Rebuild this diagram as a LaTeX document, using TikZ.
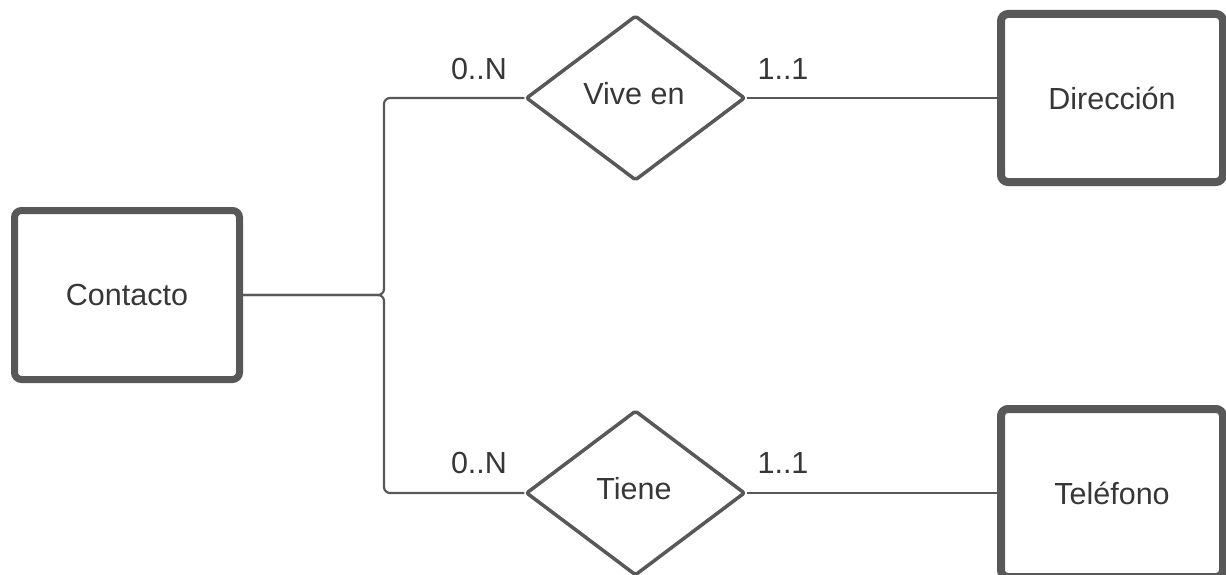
\documentclass[tikz,border=0pt]{standalone}
\usepackage{fontspec}
\setmainfont{Liberation Sans}
\usetikzlibrary{shapes.geometric}
\definecolor{edgegray}{RGB}{88,88,88}
\definecolor{txtgray}{RGB}{55,55,55}
\begin{document}
\begin{tikzpicture}[x=1pt,y=-1pt,
  every node/.style={text=txtgray,font=\fontsize{30.5}{36}\selectfont},
  entity/.style={draw=edgegray,line width=8pt,rounded corners=7pt,fill=white,
    inner sep=0pt,minimum width=222pt,minimum height=168pt},
  relation/.style={diamond,draw=edgegray,line width=3.5pt,line join=round,
    rounded corners=2pt,fill=white,inner sep=0pt,minimum width=219pt,minimum height=165pt},
  link/.style={draw=edgegray,line width=2.2pt,rounded corners=6pt},
  card/.style={inner sep=0pt}]
  \clip (0,0) rectangle (1226,575);
  \useasboundingbox (0,0) rectangle (1226,575);
  \fill[white] (0,0) rectangle (1226,575);

  % entities
  \node[entity,minimum width=225pt,minimum height=169pt,line width=7pt] (contacto) at (127,295) {Contacto};
  \node[entity] (direccion) at (1112,98) {Dirección};
  \node[entity] (telefono) at (1112,493) {Teléfono};

  % relationships
  \node[relation] (vive) at (635.5,98) {};
  \node at (634,94) {Vive en};
  \node[relation] (tiene) at (635.5,493) {};
  \node at (634,489) {Tiene};

  % branching connector from Contacto
  \coordinate (split) at (384,295);
  \draw[link] (contacto.east) -- (split) |- (vive.west);
  \draw[link] (contacto.east) -- (split) |- (tiene.west);
  \draw[link] (vive.east) -- (direccion.west);
  \draw[link] (tiene.east) -- (telefono.west);

  % cardinalities
  \node[card] (c1) at (479,69) {0..N};
  \node[card] (c2) at (783,69) {1..1};
  \node[card] (c3) at (479,463) {0..N};
  \node[card] (c4) at (783,463) {1..1};
\end{tikzpicture}
\end{document}
